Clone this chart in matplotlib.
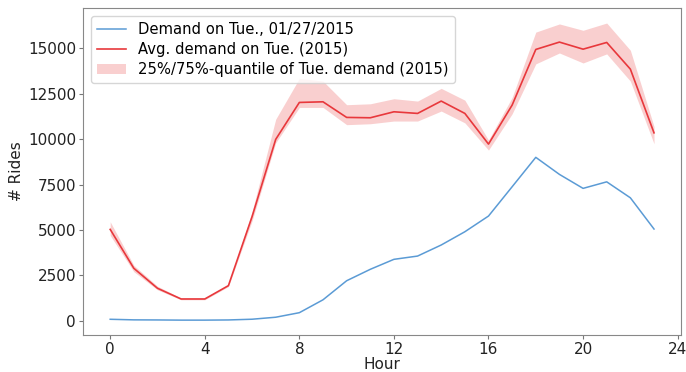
import matplotlib
matplotlib.use("Agg")
import matplotlib.pyplot as plt
import numpy as np

hours = list(range(24))

# Demand on a single day (Tue., 01/27/2015)
demand_day = [77, 45, 40, 30, 30, 40, 80, 190, 440, 1150, 2200, 2830,
              3380, 3560, 4170, 4900, 5765, 7380, 9000, 8060, 7290, 7650,
              6770, 5050]

# Average Tuesday demand in 2015
demand_avg = [5030, 2885, 1785, 1195, 1195, 1930, 5730, 9990, 12025, 12060,
              11200, 11180, 11510, 11420, 12100, 11420, 9730, 11880, 14945,
              15350, 14960, 15330, 13860, 10350]

# 25% / 75% quantiles of Tuesday demand in 2015
demand_q25 = [4700, 2700, 1700, 1150, 1150, 1880, 5500, 9800, 11750, 11750,
              10800, 10850, 11000, 11000, 11550, 10900, 9400, 11400, 14150,
              14750, 14200, 14700, 13200, 9750]
demand_q75 = [5450, 3050, 1900, 1250, 1250, 2000, 6000, 11100, 13350, 13200,
              11900, 11950, 12230, 12100, 12800, 12150, 9950, 12300, 15900,
              16350, 16000, 16400, 14900, 10700]

fs_tick = 11
fs_leg = 10.6
fig = plt.figure(figsize=(6.86, 3.72), dpi=100)
ax = fig.add_axes([0.121, 0.0995, 0.872, 0.8785])

ax.plot(hours, demand_day, color="#5b9bd5", lw=1.1,
        label="Demand on Tue., 01/27/2015")
ax.plot(hours, demand_avg, color="#e8383c", lw=1.2,
        label="Avg. demand on Tue. (2015)")
ax.fill_between(hours, demand_q25, demand_q75, color="#f4a0a0", alpha=0.5,
                lw=0, label="25%/75%-quantile of Tue. demand (2015)")

ax.set_xticks([0, 4, 8, 12, 16, 20, 24])
ax.set_yticks([0, 2500, 5000, 7500, 10000, 12500, 15000])
ax.tick_params(labelsize=fs_tick, color="#777777", labelcolor="#222222",
               length=3, pad=2)
ax.set_xlabel("Hour", fontsize=fs_tick, color="#222222", labelpad=0)
ax.set_ylabel("# Rides", fontsize=fs_tick, color="#222222", labelpad=3)
for s in ax.spines.values():
    s.set_color("#888888")

ax.legend(loc="upper left", fontsize=fs_leg, handlelength=2.0,
          borderaxespad=0.55, labelspacing=0.35, handletextpad=0.8)

fig.savefig("out.png", dpi=100)
